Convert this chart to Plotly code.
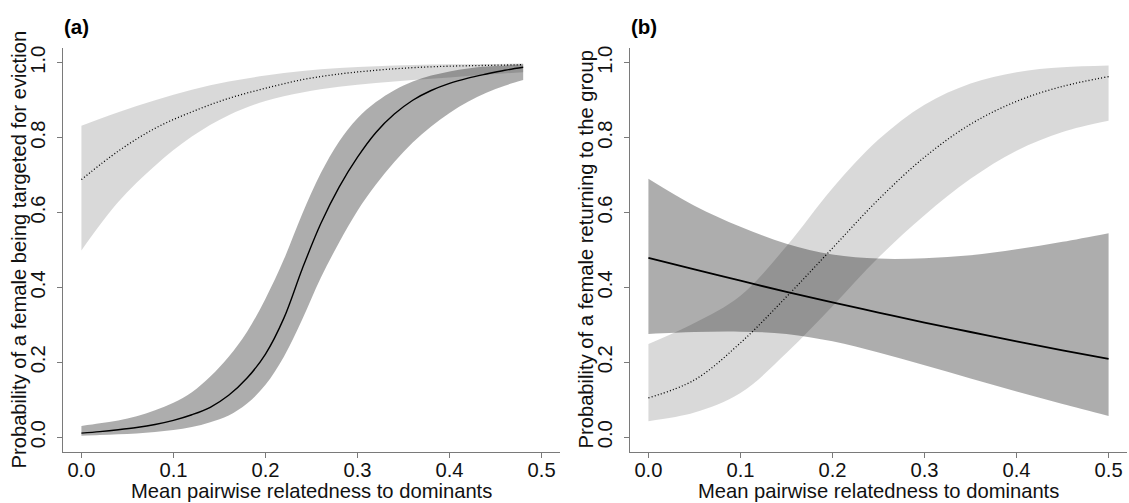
import plotly.graph_objects as go

# ---------------- data: panel (a) ----------------
xa_dark = [0.00, 0.02, 0.04, 0.06, 0.08, 0.10, 0.12, 0.14, 0.16, 0.18, 0.20, 0.22, 0.24,
           0.26, 0.28, 0.30, 0.32, 0.34, 0.36, 0.38, 0.40, 0.42, 0.44, 0.46, 0.48]
a_solid = [0.011, 0.015, 0.020, 0.026, 0.034, 0.045, 0.060, 0.080, 0.112, 0.158, 0.222, 0.318, 0.450,
           0.570, 0.668, 0.748, 0.814, 0.863, 0.900, 0.926, 0.945, 0.959, 0.970, 0.980, 0.988]
a_dark_hi = [0.030, 0.037, 0.045, 0.056, 0.072, 0.092, 0.120, 0.162, 0.215, 0.282, 0.370, 0.475, 0.597,
             0.705, 0.790, 0.852, 0.895, 0.927, 0.950, 0.966, 0.977, 0.985, 0.990, 0.993, 0.996]
a_dark_lo = [0.004, 0.006, 0.008, 0.010, 0.014, 0.019, 0.027, 0.040, 0.058, 0.090, 0.140, 0.215, 0.315,
             0.425, 0.520, 0.605, 0.675, 0.735, 0.787, 0.830, 0.866, 0.896, 0.920, 0.939, 0.954]

xa_light = [0.00, 0.04, 0.08, 0.12, 0.16, 0.20, 0.24, 0.28, 0.32, 0.36, 0.40, 0.44, 0.48]
a_dotted = [0.688, 0.764, 0.825, 0.869, 0.905, 0.932, 0.955, 0.970, 0.980, 0.987, 0.991, 0.993, 0.995]
a_light_hi = [0.832, 0.868, 0.900, 0.928, 0.950, 0.966, 0.978, 0.986, 0.991, 0.994, 0.996, 0.997, 0.998]
a_light_lo = [0.499, 0.628, 0.725, 0.803, 0.860, 0.898, 0.921, 0.936, 0.946, 0.954, 0.961, 0.968, 0.975]

# ---------------- data: panel (b) ----------------
xb = [0.00, 0.05, 0.10, 0.15, 0.20, 0.25, 0.30, 0.35, 0.40, 0.45, 0.50]
b_solid = [0.479, 0.448, 0.418, 0.388, 0.360, 0.333, 0.306, 0.281, 0.256, 0.232, 0.209]
b_dark_hi = [0.690, 0.618, 0.562, 0.517, 0.488, 0.477, 0.478, 0.486, 0.502, 0.522, 0.545]
b_dark_lo = [0.276, 0.281, 0.282, 0.276, 0.256, 0.226, 0.192, 0.157, 0.122, 0.089, 0.057]
b_dotted = [0.105, 0.153, 0.252, 0.375, 0.505, 0.635, 0.748, 0.836, 0.897, 0.937, 0.963]
b_light_hi = [0.249, 0.305, 0.378, 0.510, 0.665, 0.795, 0.888, 0.945, 0.975, 0.988, 0.993]
b_light_lo = [0.043, 0.066, 0.118, 0.225, 0.350, 0.480, 0.593, 0.690, 0.765, 0.815, 0.845]

x_ticks = [0.0, 0.1, 0.2, 0.3, 0.4, 0.5]
y_ticks = [0.0, 0.2, 0.4, 0.6, 0.8, 1.0]

x_title = "Mean pairwise relatedness to dominants"
ya_title = "Probability of a female being targeted for eviction"
yb_title = "Probability of a female returning to the group"
panel_labels = ["(a)", "(b)"]

LIGHT = "rgba(0,0,0,0.15)"
DARK = "rgba(0,0,0,0.32)"
W, H = 1129, 503

fig = go.Figure()


def band(x, hi, lo, color, xa, ya):
    fig.add_trace(go.Scatter(x=x, y=hi, mode="lines", line=dict(width=0, shape="spline"),
                             xaxis=xa, yaxis=ya, showlegend=False, hoverinfo="skip"))
    fig.add_trace(go.Scatter(x=x, y=lo, mode="lines", line=dict(width=0, shape="spline"),
                             fill="tonexty", fillcolor=color,
                             xaxis=xa, yaxis=ya, showlegend=False, hoverinfo="skip"))


def curve(x, y, dotted, xa, ya, width):
    fig.add_trace(go.Scatter(x=x, y=y, mode="lines",
                             line=dict(color="#000000", width=width, shape="spline",
                                       dash="1px,2.2px" if dotted else "solid"),
                             xaxis=xa, yaxis=ya, showlegend=False))


# panel (a)
band(xa_light, a_light_hi, a_light_lo, LIGHT, "x", "y")
band(xa_dark, a_dark_hi, a_dark_lo, DARK, "x", "y")
curve(xa_light, a_dotted, True, "x", "y", 1.3)
curve(xa_dark, a_solid, False, "x", "y", 1.4)

# panel (b)
band(xb, b_light_hi, b_light_lo, LIGHT, "x2", "y2")
band(xb, b_dark_hi, b_dark_lo, DARK, "x2", "y2")
curve(xb, b_dotted, True, "x2", "y2", 1.3)
curve(xb, b_solid, False, "x2", "y2", 1.8)

AX = "#7a7a7a"
FONT = "Liberation Sans, Arial, sans-serif"
FS = 20.2

y_dom = [(H - 452) / H, (H - 46) / H]
xa_dom = [63 / W, 560 / W]
xb_dom = [630 / W, 1127 / W]

common_x = dict(range=[-0.02, 0.52], tickvals=x_ticks, tickformat=".1f", ticks="outside",
                ticklen=5, tickwidth=1, tickcolor=AX, showline=True, linecolor=AX, linewidth=1,
                showgrid=False, zeroline=False, tickfont=dict(size=FS, color="#111111", family=FONT),
                ticklabelstandoff=-5, fixedrange=True)
common_y = dict(range=[-0.04, 1.04], tickvals=y_ticks, tickformat=".1f", ticks="outside",
                ticklen=5, tickwidth=1, tickcolor=AX, showline=True, linecolor=AX, linewidth=1,
                showgrid=False, zeroline=False, tickangle=-90,
                tickfont=dict(size=FS, color="#111111", family=FONT), domain=y_dom,
                ticklabelstandoff=4, fixedrange=True)

fig.update_layout(
    width=W, height=H, margin=dict(l=0, r=0, t=0, b=0, pad=0),
    paper_bgcolor="white", plot_bgcolor="white",
    font=dict(family=FONT, size=FS, color="#111111"),
    xaxis=dict(domain=xa_dom, anchor="y", **common_x),
    yaxis=dict(anchor="x", **common_y),
    xaxis2=dict(domain=xb_dom, anchor="y2", **common_x),
    yaxis2=dict(anchor="x2", **common_y),
)

ann = []
for dom, lbl, ytitle in [(xa_dom, panel_labels[0], ya_title), (xb_dom, panel_labels[1], yb_title)]:
    left_px = dom[0] * W
    ann.append(dict(text=x_title, xref="paper", yref="paper",
                    x=(dom[0] + dom[1]) / 2, y=(H - 490.5) / H, xanchor="center", yanchor="middle",
                    showarrow=False, font=dict(size=FS, color="#111111", family=FONT)))
    ann.append(dict(text=ytitle, xref="paper", yref="paper", textangle=-90,
                    x=(left_px - 43.5) / W, y=(y_dom[0] + y_dom[1]) / 2,
                    xanchor="center", yanchor="middle",
                    showarrow=False, font=dict(size=FS, color="#111111", family=FONT)))
    ann.append(dict(text="<b>" + lbl + "</b>", xref="paper", yref="paper",
                    x=(left_px - 1) / W, y=(H - 25) / H, xanchor="left", yanchor="middle",
                    showarrow=False, font=dict(size=20.5, color="#000000", family=FONT)))
fig.update_layout(annotations=ann)

fig.write_html("out.html", config={"displayModeBar": False},
               post_script="document.body.style.margin='0';document.body.style.overflow='hidden';")
